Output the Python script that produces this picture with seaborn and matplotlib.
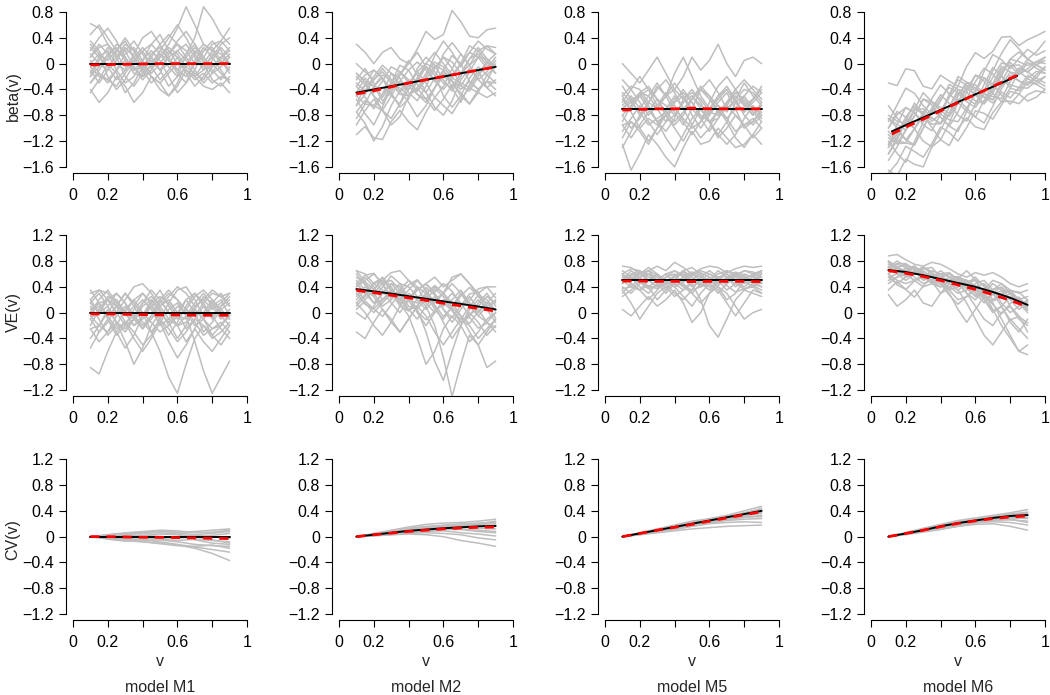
import matplotlib
matplotlib.use("Agg")
import matplotlib.pyplot as plt
import pandas as pd
import seaborn as sns

# ---------------------------------------------------------
# grids (v values)
# ---------------------------------------------------------
v_fine = [0.10, 0.15, 0.20, 0.25, 0.30, 0.35, 0.40, 0.45, 0.50,
          0.55, 0.60, 0.65, 0.70, 0.75, 0.80, 0.85, 0.90]
v_fine_long = [0.10, 0.15, 0.20, 0.25, 0.30, 0.35, 0.40, 0.45, 0.50, 0.55,
               0.60, 0.65, 0.70, 0.75, 0.80, 0.85, 0.90, 0.95, 1.00]
v_coarse = [0.1, 0.2, 0.3, 0.4, 0.5, 0.6, 0.7, 0.8, 0.9]
v_m6_beta = [0.12, 0.21, 0.30, 0.39, 0.48, 0.57, 0.66, 0.75, 0.84]

model_names = ["model M1", "model M2", "model M5", "model M6"]
row_labels = ["beta(v)", "VE(v)", "CV(v)"]
x_ticks = [0, 0.2, 0.4, 0.6, 0.8, 1.0]
x_tick_labels = ["0", "0.2", "", "0.6", "", "1"]
y_ticks_beta = [-1.6, -1.2, -0.8, -0.4, 0, 0.4, 0.8]
y_ticks_other = [-1.2, -0.8, -0.4, 0, 0.4, 0.8, 1.2]

# ---------------------------------------------------------
# beta(v): true curve, mean estimate, simulated estimates
# ---------------------------------------------------------
beta_m1_true = [0, 0, 0, 0, 0, 0, 0, 0, 0]
beta_m1_mean = [-0.02, -0.015, -0.01, -0.005, 0, 0, 0, 0, 0]
beta_m1_gray = [
    [0.62, 0.55, 0.3, 0.1, 0.2, 0.35, 0.15, -0.05, 0.1, 0.3, 0.55, 0.88, 0.6, 0.3, 0.2, 0.35, 0.55],
    [-0.4, -0.6, -0.45, -0.2, -0.35, -0.6, -0.45, -0.2, -0.3, -0.5, -0.35, -0.1, -0.2, -0.35, -0.4, -0.3, -0.45],
    [0.2, 0.4, 0.55, 0.35, 0.1, -0.1, 0.05, 0.3, 0.45, 0.2, 0.0, 0.15, 0.4, 0.88, 0.7, 0.45, 0.3],
    [0.05, -0.15, -0.3, -0.1, 0.15, 0.25, 0.05, -0.2, -0.4, -0.5, -0.3, 0.0, 0.2, 0.05, -0.15, -0.05, 0.1],
    [-0.2, 0.05, 0.25, 0.1, -0.2, -0.35, -0.15, 0.1, 0.3, 0.45, 0.3, 0.1, -0.1, -0.3, -0.15, 0.1, 0.2],
    [0.35, 0.2, -0.05, -0.25, -0.1, 0.15, 0.4, 0.5, 0.3, 0.05, -0.15, -0.3, -0.1, 0.2, 0.35, 0.2, 0.0],
    [-0.1, -0.3, -0.1, 0.2, 0.4, 0.2, -0.1, -0.3, -0.15, 0.15, 0.35, 0.5, 0.3, 0.0, -0.25, -0.35, -0.2],
    [0.1, 0.3, 0.15, -0.1, -0.3, -0.2, 0.05, 0.2, 0.05, -0.2, -0.45, -0.3, 0.05, 0.25, 0.1, -0.1, -0.3],
    [-0.3, -0.1, 0.1, 0.3, 0.2, -0.05, -0.25, -0.1, 0.2, 0.4, 0.6, 0.4, 0.15, -0.05, 0.1, 0.3, 0.4],
    [0.45, 0.6, 0.4, 0.2, 0.35, 0.1, -0.1, 0.05, -0.1, 0.1, 0.2, 0.05, -0.2, -0.1, 0.15, 0.05, -0.15],
    [0.0, 0.15, -0.2, -0.4, -0.25, 0.0, 0.2, -0.05, -0.25, -0.1, 0.1, -0.15, -0.35, -0.2, 0.05, 0.25, 0.1],
    [-0.45, -0.25, 0.0, -0.15, -0.45, -0.3, -0.05, 0.1, -0.1, -0.35, -0.2, 0.15, 0.3, 0.1, -0.1, -0.25, -0.05],
    [0.15, 0.0, -0.1, 0.05, 0.25, 0.1, -0.15, -0.05, 0.15, 0.05, -0.1, 0.1, 0.25, 0.1, -0.05, 0.1, 0.25],
    [-0.15, 0.1, 0.2, 0.0, -0.1, 0.1, 0.25, 0.1, -0.1, 0.0, 0.2, 0.3, 0.1, -0.1, 0.0, -0.15, -0.3],
    [0.25, 0.1, -0.05, 0.1, 0.3, 0.2, 0.0, -0.15, 0.0, 0.2, 0.1, -0.1, -0.2, 0.0, 0.2, 0.15, 0.0],
    [-0.2, -0.05, 0.15, 0.25, 0.05, -0.15, -0.2, 0.0, 0.2, 0.1, -0.1, -0.2, 0.0, 0.2, 0.25, 0.05, -0.1],
    [0.1, 0.25, 0.3, 0.15, -0.05, 0.05, 0.2, 0.3, 0.15, -0.05, -0.2, -0.05, 0.15, 0.3, 0.2, 0.0, 0.15],
    [-0.05, -0.2, -0.25, -0.1, 0.05, -0.05, -0.2, -0.1, 0.1, 0.25, 0.15, -0.05, -0.15, -0.25, -0.05, 0.1, 0.0],
    [0.3, 0.15, 0.05, 0.2, 0.1, -0.1, -0.05, 0.15, 0.25, 0.15, 0.3, 0.2, 0.0, 0.1, 0.3, 0.35, 0.2],
    [-0.3, -0.15, -0.25, -0.35, -0.15, 0.05, -0.05, -0.2, -0.3, -0.15, 0.0, -0.1, -0.25, -0.15, -0.3, -0.2, -0.25],
]

beta_m2_true = [-0.45, -0.4, -0.35, -0.3, -0.25, -0.2, -0.15, -0.1, -0.05]
beta_m2_mean = [-0.47, -0.42, -0.36, -0.3, -0.25, -0.2, -0.15, -0.1, -0.05]
beta_m2_gray = [
    [0.30, 0.175, 0.0, 0.175, 0.25, 0.075, 0.0, 0.225, 0.5, 0.375, 0.45, 0.825, 0.65, 0.425, 0.4, 0.525, 0.55],
    [-1.1, -0.975, -1.15, -1.175, -0.9, -0.725, -0.9, -1.025, -0.75, -0.525, -0.65, -0.775, -0.55, -0.375, -0.45, -0.525, -0.45],
    [-0.25, -0.075, -0.3, -0.525, -0.3, -0.025, -0.1, -0.325, -0.45, -0.225, 0.15, 0.325, 0.15, -0.025, 0.1, 0.275, 0.25],
    [-0.85, -0.625, -0.35, -0.225, -0.45, -0.675, -0.55, -0.225, -0.05, -0.175, -0.5, -0.675, -0.5, -0.225, -0.05, -0.175, -0.3],
    [-0.35, -0.525, -0.7, -0.475, -0.15, -0.225, -0.45, -0.575, -0.35, -0.075, 0.1, -0.075, -0.35, -0.425, -0.2, 0.025, 0.15],
    [-0.65, -0.325, -0.1, -0.225, -0.5, -0.625, -0.4, -0.075, 0.1, -0.025, -0.25, -0.425, -0.2, 0.075, 0.25, 0.075, -0.05],
    [-0.15, -0.275, -0.5, -0.725, -0.85, -0.625, -0.3, -0.125, -0.3, -0.525, -0.35, -0.075, 0.15, -0.025, -0.25, -0.375, -0.25],
    [-0.55, -0.775, -0.95, -0.675, -0.35, -0.175, 0.05, -0.175, -0.45, -0.675, -0.8, -0.575, -0.25, -0.075, -0.25, -0.125, 0.05],
    [-0.45, -0.225, -0.35, -0.575, -0.45, -0.175, 0.0, 0.175, -0.05, -0.275, -0.1, 0.125, 0.0, -0.275, -0.4, -0.275, 0.0],
    [-0.95, -0.725, -0.55, -0.725, -0.95, -0.825, -0.5, -0.375, -0.55, -0.725, -0.55, -0.325, -0.45, -0.625, -0.4, -0.275, -0.4],
    [0.0, -0.125, -0.25, -0.075, -0.25, -0.425, -0.25, -0.425, -0.2, 0.125, 0.35, 0.175, -0.05, 0.175, 0.35, 0.225, 0.15],
    [-0.75, -0.925, -1.2, -0.975, -0.65, -0.425, -0.6, -0.825, -0.65, -0.375, -0.15, -0.275, -0.5, -0.625, -0.45, -0.175, -0.05],
    [-0.3, -0.425, -0.2, -0.025, -0.15, -0.325, -0.4, -0.225, 0.0, 0.175, 0.0, -0.175, 0.0, 0.275, 0.2, 0.025, -0.15],
    [-0.5, -0.325, -0.5, -0.625, -0.3, -0.125, -0.25, -0.475, -0.6, -0.375, -0.1, -0.375, -0.6, -0.325, -0.1, -0.375, -0.5],
    [-0.2, -0.325, -0.45, -0.275, -0.05, -0.125, -0.3, -0.425, -0.25, -0.025, -0.1, -0.275, -0.35, -0.125, 0.1, 0.075, -0.05],
    [-0.65, -0.475, -0.25, -0.125, -0.3, -0.475, -0.5, -0.275, -0.05, -0.125, -0.3, -0.375, -0.15, 0.075, 0.15, -0.025, -0.15],
    [-0.35, -0.175, -0.1, -0.225, -0.4, -0.275, -0.1, 0.025, -0.1, -0.275, -0.4, -0.225, 0.0, 0.175, 0.1, -0.075, 0.1],
    [-0.5, -0.625, -0.65, -0.475, -0.3, -0.375, -0.5, -0.375, -0.15, 0.025, -0.05, -0.225, -0.3, -0.375, -0.15, 0.025, -0.05],
    [-0.15, -0.275, -0.35, -0.175, -0.25, -0.425, -0.35, -0.125, 0.0, -0.075, 0.1, 0.025, -0.15, -0.025, 0.2, 0.275, 0.15],
    [-0.75, -0.575, -0.65, -0.725, -0.5, -0.275, -0.35, -0.475, -0.55, -0.375, -0.2, -0.275, -0.4, -0.275, -0.4, -0.275, -0.3],
]

beta_m5_true = [-0.7, -0.7, -0.7, -0.7, -0.7, -0.7, -0.7, -0.7, -0.7]
beta_m5_mean = [-0.72, -0.71, -0.7, -0.7, -0.69, -0.7, -0.7, -0.7, -0.7]
beta_m5_gray = [
    [0.0, -0.15, -0.3, -0.1, 0.1, -0.15, -0.4, -0.2, 0.1, -0.1, 0.05, 0.3, 0.0, -0.2, 0.05, 0.1, 0.0],
    [-1.25, -1.65, -1.4, -1.1, -1.25, -1.45, -1.6, -1.3, -1.05, -1.25, -1.2, -1.0, -1.15, -1.3, -1.25, -1.1, -1.25],
    [-0.35, -0.55, -0.8, -0.6, -0.35, -0.5, -0.75, -0.95, -0.7, -0.4, -0.25, -0.45, -0.7, -0.55, -0.3, -0.5, -0.65],
    [-0.9, -0.65, -0.45, -0.65, -0.9, -1.05, -0.85, -0.55, -0.4, -0.6, -0.9, -1.1, -0.9, -0.6, -0.5, -0.7, -0.85],
    [-0.6, -0.4, -0.2, -0.4, -0.65, -0.5, -0.3, -0.5, -0.8, -1.0, -0.8, -0.5, -0.35, -0.55, -0.8, -0.95, -0.8],
    [-1.05, -0.85, -0.65, -0.9, -1.1, -0.9, -0.6, -0.4, -0.6, -0.85, -1.05, -0.85, -0.6, -0.4, -0.6, -0.8, -0.65],
    [-0.5, -0.75, -1.0, -1.2, -1.0, -0.7, -0.5, -0.7, -0.95, -1.15, -1.0, -0.7, -0.9, -1.15, -1.3, -1.1, -0.9],
    [-0.8, -1.0, -0.85, -0.6, -0.4, -0.25, -0.45, -0.7, -0.55, -0.35, -0.5, -0.75, -0.6, -0.4, -0.25, -0.4, -0.55],
    [-0.25, -0.4, -0.6, -0.8, -0.65, -0.45, -0.65, -0.9, -1.1, -0.9, -0.6, -0.35, -0.2, -0.4, -0.65, -0.8, -0.6],
    [-1.15, -0.9, -1.05, -1.25, -1.0, -0.8, -1.0, -1.2, -0.95, -0.7, -0.9, -1.15, -1.0, -0.8, -0.95, -1.15, -1.0],
    [-0.65, -0.5, -0.7, -0.5, -0.3, -0.5, -0.15, 0.1, -0.2, -0.5, -0.7, -0.55, -0.4, -0.6, -0.75, -0.55, -0.35],
    [-1.3, -1.05, -0.8, -0.7, -0.9, -1.15, -1.35, -1.1, -0.85, -0.7, -0.9, -1.1, -1.25, -1.1, -0.85, -0.65, -0.8],
    [-0.45, -0.6, -0.45, -0.35, -0.55, -0.8, -0.95, -0.8, -0.55, -0.4, -0.55, -0.75, -0.85, -0.7, -0.5, -0.35, -0.45],
    [-0.95, -1.15, -0.95, -0.75, -0.55, -0.65, -0.8, -0.6, -0.5, -0.65, -0.8, -0.6, -0.45, -0.7, -1.0, -0.9, -0.7],
    [-0.7, -0.55, -0.5, -0.7, -0.9, -0.8, -0.6, -0.5, -0.7, -0.85, -0.7, -0.5, -0.4, -0.6, -0.75, -0.6, -0.45],
    [-0.8, -0.65, -0.45, -0.5, -0.7, -0.9, -0.8, -0.6, -0.5, -0.7, -0.9, -0.85, -0.65, -0.45, -0.55, -0.75, -0.9],
    [-0.55, -0.7, -0.5, -0.4, -0.55, -0.75, -0.9, -0.75, -0.55, -0.4, -0.5, -0.65, -0.75, -0.55, -0.4, -0.45, -0.6],
    [-0.7, -0.6, -0.75, -0.95, -0.85, -0.75, -0.55, -0.45, -0.6, -0.8, -0.9, -0.75, -0.65, -0.8, -0.95, -0.9, -0.75],
    [-0.5, -0.35, -0.4, -0.6, -0.7, -0.5, -0.4, -0.55, -0.45, -0.55, -0.75, -0.8, -0.6, -0.5, -0.65, -0.55, -0.4],
    [-0.95, -0.9, -1.0, -0.85, -0.95, -0.8, -0.7, -0.85, -1.0, -0.9, -0.75, -0.65, -0.85, -1.05, -0.95, -0.85, -1.0],
]

beta_m6_true = [-1.05, -0.94, -0.835, -0.73, -0.62, -0.51, -0.405, -0.30, -0.19]
beta_m6_mean = [-1.09, -0.97, -0.86, -0.745, -0.63, -0.515, -0.405, -0.29, -0.18]
beta_m6_gray = [
    [-0.3, -0.34, -0.08, -0.11, -0.35, -0.39, -0.18, -0.27, -0.35, -0.04, 0.17, 0.08, 0.19, 0.41, 0.42, 0.28, 0.37, 0.43, 0.5],
    [-1.65, -1.74, -1.48, -1.56, -1.6, -1.29, -1.18, -1.27, -1.0, -0.84, -0.98, -1.02, -0.76, -0.59, -0.58, -0.62, -0.48, -0.42, -0.45],
    [-1.3, -0.94, -0.68, -0.76, -0.95, -1.04, -0.78, -0.47, -0.25, -0.34, -0.48, -0.62, -0.41, -0.14, 0.07, 0.03, -0.03, 0.03, 0.1],
    [-0.85, -0.99, -1.18, -1.26, -1.0, -0.69, -0.48, -0.62, -0.8, -0.89, -0.63, -0.32, -0.06, -0.19, -0.38, -0.42, -0.23, -0.12, -0.15],
    [-1.5, -1.29, -1.03, -0.81, -0.55, -0.64, -0.83, -0.97, -0.75, -0.44, -0.18, -0.27, -0.46, -0.59, -0.38, -0.12, 0.07, -0.02, -0.1],
    [-1.0, -0.74, -0.83, -1.01, -0.8, -0.54, -0.33, -0.47, -0.6, -0.74, -0.83, -0.57, -0.31, -0.04, -0.13, -0.27, -0.33, -0.22, -0.05],
    [-1.2, -1.39, -1.53, -1.21, -0.9, -0.69, -0.83, -0.97, -1.05, -0.74, -0.43, -0.22, -0.31, -0.49, -0.63, -0.47, -0.28, -0.32, -0.4],
    [-0.65, -0.84, -0.98, -0.71, -0.45, -0.59, -0.73, -0.52, -0.2, -0.29, -0.43, -0.12, 0.14, 0.06, -0.08, 0.08, 0.22, 0.13, 0.2],
    [-1.4, -1.14, -0.88, -1.01, -1.2, -1.29, -1.03, -0.77, -0.55, -0.69, -0.83, -0.92, -0.66, -0.39, -0.18, -0.27, -0.33, -0.17, -0.05],
    [-1.1, -1.24, -1.03, -0.71, -0.7, -0.84, -0.93, -0.67, -0.45, -0.54, -0.28, -0.07, -0.16, -0.34, -0.23, -0.07, -0.13, -0.22, -0.3],
    [-1.7, -1.54, -1.28, -1.36, -1.45, -1.24, -0.98, -1.07, -1.2, -0.99, -0.73, -0.77, -0.86, -0.64, -0.43, -0.47, -0.58, -0.52, -0.4],
    [-0.9, -0.64, -0.38, -0.46, -0.65, -0.79, -0.58, -0.32, -0.4, -0.54, -0.63, -0.42, -0.11, 0.16, 0.37, 0.23, 0.07, 0.18, 0.35],
    [-1.25, -1.04, -1.18, -1.01, -0.75, -0.59, -0.68, -0.77, -0.5, -0.29, -0.38, -0.47, -0.56, -0.34, -0.13, -0.17, -0.08, 0.03, 0.0],
    [-1.05, -1.19, -0.88, -0.61, -0.8, -0.99, -1.18, -0.92, -0.6, -0.39, -0.48, -0.62, -0.46, -0.19, -0.33, -0.37, -0.18, -0.27, -0.2],
    [-0.85, -0.94, -1.03, -0.81, -0.55, -0.59, -0.73, -0.82, -0.6, -0.34, -0.38, -0.52, -0.56, -0.29, -0.03, -0.02, -0.13, -0.02, 0.1],
    [-1.3, -1.09, -0.83, -0.66, -0.8, -0.94, -0.93, -0.67, -0.4, -0.44, -0.58, -0.62, -0.36, -0.09, 0.02, -0.12, -0.23, -0.32, -0.2],
    [-1.0, -0.79, -0.68, -0.76, -0.9, -0.74, -0.53, -0.37, -0.45, -0.59, -0.68, -0.47, -0.21, 0.01, -0.03, -0.17, 0.02, -0.07, -0.15],
    [-1.15, -1.24, -1.23, -1.01, -0.8, -0.84, -0.93, -0.77, -0.5, -0.29, -0.33, -0.47, -0.51, -0.54, -0.28, -0.07, -0.13, -0.02, 0.05],
    [-0.8, -0.89, -0.93, -0.71, -0.75, -0.89, -0.78, -0.52, -0.35, -0.39, -0.18, -0.22, -0.36, -0.19, 0.07, 0.18, 0.07, -0.02, -0.1],
    [-1.4, -1.19, -1.23, -1.26, -1.0, -0.74, -0.78, -0.87, -0.9, -0.69, -0.48, -0.52, -0.61, -0.44, -0.53, -0.37, -0.38, -0.27, -0.35],
]

# ---------------------------------------------------------
# VE(v)
# ---------------------------------------------------------
ve_m1_true = [0, 0, 0, 0, 0, 0, 0, 0, 0]
ve_m1_mean = [-0.02, -0.02, -0.025, -0.03, -0.035, -0.035, -0.04, -0.04, -0.04]
ve_m1_gray = [
    [0.3, 0.35, 0.2, 0.0, 0.2, 0.4, 0.45, 0.3, 0.1, 0.25, 0.4, 0.3, 0.1, 0.2, 0.35, 0.25, 0.3],
    [-0.85, -0.95, -0.6, -0.3, -0.15, -0.3, -0.5, -0.35, -0.1, -0.25, -0.45, -0.3, -0.1, -0.2, -0.4, -0.3, -0.15],
    [0.1, -0.1, -0.35, -0.2, 0.05, 0.2, 0.0, -0.3, -0.6, -1.0, -1.25, -0.8, -0.4, -0.2, -0.35, -0.5, -0.3],
    [-0.2, 0.05, 0.2, 0.1, -0.15, -0.4, -0.6, -0.4, -0.15, 0.05, 0.15, -0.05, -0.45, -0.9, -1.25, -1.0, -0.75],
    [0.2, 0.0, 0.1, 0.3, 0.15, -0.1, -0.25, -0.05, 0.2, 0.35, 0.2, -0.05, 0.15, 0.3, 0.1, -0.1, 0.05],
    [-0.4, -0.2, 0.05, -0.15, -0.45, -0.8, -0.55, -0.2, 0.0, -0.15, -0.4, -0.2, 0.05, -0.1, -0.35, -0.2, 0.0],
    [0.0, 0.2, 0.35, 0.15, -0.05, 0.1, 0.3, 0.15, -0.1, -0.35, -0.15, 0.1, 0.3, 0.15, -0.1, 0.1, 0.2],
    [-0.1, -0.3, -0.15, 0.1, 0.3, 0.1, -0.15, -0.3, -0.1, 0.15, 0.35, 0.4, 0.2, -0.05, 0.15, 0.3, 0.1],
    [-0.55, -0.3, -0.1, -0.3, -0.55, -0.35, -0.05, 0.1, -0.15, -0.45, -0.7, -0.5, -0.25, -0.45, -0.6, -0.4, -0.2],
    [0.35, 0.15, -0.05, 0.1, 0.3, 0.15, -0.05, 0.15, 0.35, 0.1, -0.1, 0.05, 0.25, 0.35, 0.2, 0.0, -0.1],
    [-0.25, -0.45, -0.3, -0.05, 0.1, -0.05, -0.25, -0.1, 0.1, 0.2, 0.0, -0.25, -0.1, 0.1, -0.05, -0.25, -0.4],
    [0.15, 0.3, 0.1, -0.15, -0.3, -0.1, 0.15, 0.35, 0.2, 0.0, -0.2, -0.45, -0.25, 0.0, 0.2, 0.05, -0.1],
    [-0.05, -0.2, 0.0, 0.2, 0.0, -0.2, -0.05, 0.2, 0.05, -0.2, -0.05, 0.2, 0.0, -0.3, -0.15, 0.05, 0.15],
    [0.05, 0.15, -0.1, -0.35, -0.2, 0.05, 0.2, 0.05, -0.2, -0.1, 0.1, 0.0, -0.2, -0.1, 0.1, 0.2, -0.05],
    [0.0, 0.15, 0.2, 0.0, -0.2, -0.1, 0.1, 0.2, 0.0, -0.15, 0.0, 0.2, 0.3, 0.1, -0.05, 0.1, 0.25],
    [-0.1, 0.05, 0.25, 0.2, 0.0, -0.2, -0.1, 0.1, 0.2, 0.0, -0.2, -0.15, 0.05, 0.25, 0.15, -0.05, -0.2],
    [0.15, 0.0, 0.2, 0.3, 0.15, -0.05, -0.2, -0.05, 0.15, 0.3, 0.2, 0.05, -0.05, 0.15, 0.3, 0.25, 0.1],
    [0.0, 0.1, -0.05, -0.25, -0.15, -0.05, 0.15, 0.25, 0.1, -0.1, -0.2, -0.05, 0.05, -0.1, -0.25, -0.2, -0.05],
    [0.2, 0.35, 0.3, 0.1, 0.0, 0.2, 0.3, 0.15, 0.25, 0.15, -0.05, -0.1, 0.1, 0.2, 0.05, 0.15, 0.3],
    [-0.25, -0.2, -0.3, -0.15, -0.25, -0.1, 0.0, -0.15, -0.3, -0.2, -0.05, 0.05, -0.15, -0.35, -0.25, -0.15, -0.3],
]

ve_m2_true = [0.365, 0.33, 0.295, 0.255, 0.215, 0.175, 0.135, 0.095, 0.05]
ve_m2_mean = [0.345, 0.31, 0.27, 0.23, 0.19, 0.145, 0.105, 0.065, 0.025]
ve_m2_gray = [
    [0.65, 0.6, 0.45, 0.5, 0.62, 0.65, 0.5, 0.35, 0.45, 0.55, 0.4, 0.5, 0.6, 0.45, 0.3, 0.4, 0.4],
    [-0.3, -0.4, -0.15, 0.05, -0.1, -0.3, -0.1, 0.1, -0.05, -0.3, -0.5, -0.3, -0.1, -0.2, -0.4, -0.25, -0.1],
    [0.3, 0.15, 0.0, 0.15, 0.3, 0.15, -0.05, -0.4, -0.8, -0.6, -0.25, -0.05, -0.2, -0.45, -0.3, -0.1, 0.0],
    [0.45, 0.3, 0.15, 0.2, 0.35, 0.25, 0.05, -0.1, 0.1, -0.2, -0.7, -1.3, -0.8, -0.35, -0.5, -0.85, -0.75],
    [0.1, 0.25, 0.45, 0.35, 0.15, 0.0, 0.2, 0.4, 0.3, 0.05, -0.1, 0.1, 0.3, 0.15, -0.05, 0.1, 0.2],
    [0.55, 0.45, 0.3, 0.45, 0.5, 0.35, 0.2, 0.35, 0.45, 0.3, 0.1, 0.2, 0.35, 0.15, 0.0, 0.15, 0.3],
    [0.2, 0.35, 0.25, 0.05, -0.15, -0.3, -0.1, 0.1, 0.25, 0.1, -0.15, -0.4, -0.2, 0.05, 0.2, 0.05, -0.15],
    [0.4, 0.5, 0.6, 0.45, 0.25, 0.35, 0.5, 0.4, 0.15, 0.0, 0.15, 0.3, 0.15, -0.05, 0.1, 0.25, 0.15],
    [0.0, -0.1, 0.1, 0.3, 0.45, 0.3, 0.1, 0.05, -0.3, -0.75, -1.05, -0.6, -0.2, 0.0, -0.15, -0.35, -0.2],
    [0.35, 0.2, 0.35, 0.55, 0.4, 0.2, 0.35, 0.5, 0.35, 0.15, 0.3, 0.45, 0.3, 0.1, -0.05, -0.15, 0.0],
    [0.25, 0.4, 0.3, 0.1, 0.2, 0.35, 0.25, 0.0, -0.2, 0.0, 0.2, 0.05, -0.15, -0.05, 0.15, 0.3, 0.1],
    [0.5, 0.35, 0.15, 0.3, 0.45, 0.4, 0.2, 0.15, 0.3, 0.4, 0.3, 0.55, 0.6, 0.45, 0.25, 0.15, 0.05],
    [0.15, 0.0, -0.2, -0.35, -0.15, 0.1, 0.3, 0.2, 0.05, 0.2, 0.3, 0.15, -0.05, -0.3, -0.5, -0.3, -0.1],
    [0.4, 0.55, 0.4, 0.2, 0.3, 0.45, 0.4, 0.25, 0.1, 0.25, 0.05, -0.15, 0.05, 0.25, 0.05, -0.15, -0.3],
    [0.6, 0.43, 0.26, 0.39, 0.57, 0.45, 0.23, 0.06, 0.19, 0.37, 0.25, 0.03, -0.1, 0.09, 0.27, 0.2, 0.03],
    [0.15, 0.28, 0.46, 0.54, 0.32, 0.1, 0.03, 0.21, 0.39, 0.27, 0.05, -0.08, 0.11, 0.29, 0.32, 0.1, -0.08],
    [0.45, 0.58, 0.61, 0.44, 0.22, 0.3, 0.43, 0.51, 0.34, 0.12, -0.06, 0.08, 0.26, 0.39, 0.27, 0.05, 0.18],
    [0.3, 0.13, 0.06, 0.19, 0.32, 0.2, 0.03, 0.11, 0.29, 0.42, 0.3, 0.08, -0.05, -0.17, 0.02, 0.15, 0.03],
    [0.65, 0.48, 0.36, 0.49, 0.37, 0.15, 0.18, 0.36, 0.44, 0.32, 0.45, 0.33, 0.11, 0.19, 0.37, 0.4, 0.23],
    [0.05, 0.18, 0.06, -0.06, 0.12, 0.3, 0.18, 0.01, -0.11, 0.02, 0.15, 0.03, -0.15, -0.07, -0.24, -0.16, -0.23],
]

ve_m5_true = [0.5, 0.5, 0.5, 0.5, 0.5, 0.5, 0.5, 0.5, 0.5]
ve_m5_mean = [0.49, 0.49, 0.485, 0.485, 0.48, 0.485, 0.485, 0.485, 0.48]
ve_m5_gray = [
    [0.72, 0.7, 0.6, 0.65, 0.72, 0.65, 0.78, 0.7, 0.6, 0.68, 0.72, 0.7, 0.62, 0.68, 0.72, 0.7, 0.72],
    [0.05, -0.05, 0.1, 0.25, 0.1, 0.2, 0.35, 0.15, -0.15, 0.0, 0.3, 0.4, 0.3, 0.1, -0.1, 0.0, 0.05],
    [0.35, 0.15, -0.1, 0.1, 0.3, 0.4, 0.25, 0.35, 0.45, 0.2, -0.2, -0.38, -0.1, 0.2, 0.35, 0.3, 0.25],
    [0.55, 0.45, 0.35, 0.5, 0.6, 0.5, 0.4, 0.5, 0.6, 0.55, 0.45, 0.55, 0.6, 0.5, 0.4, 0.5, 0.55],
    [0.45, 0.6, 0.65, 0.5, 0.4, 0.55, 0.65, 0.55, 0.4, 0.5, 0.6, 0.5, 0.35, 0.45, 0.6, 0.55, 0.45],
    [0.6, 0.5, 0.55, 0.65, 0.5, 0.35, 0.5, 0.65, 0.55, 0.4, 0.5, 0.65, 0.55, 0.4, 0.5, 0.6, 0.65],
    [0.25, 0.35, 0.5, 0.4, 0.2, 0.35, 0.5, 0.4, 0.3, 0.45, 0.55, 0.4, 0.2, 0.3, 0.5, 0.4, 0.3],
    [0.5, 0.65, 0.55, 0.4, 0.5, 0.6, 0.45, 0.35, 0.5, 0.62, 0.55, 0.45, 0.5, 0.62, 0.5, 0.4, 0.5],
    [0.65, 0.55, 0.4, 0.3, 0.45, 0.55, 0.6, 0.45, 0.3, 0.15, 0.3, 0.5, 0.6, 0.5, 0.35, 0.45, 0.6],
    [0.4, 0.3, 0.45, 0.6, 0.55, 0.45, 0.3, 0.2, 0.35, 0.55, 0.65, 0.55, 0.45, 0.55, 0.65, 0.6, 0.45],
    [0.55, 0.5, 0.6, 0.7, 0.6, 0.45, 0.55, 0.65, 0.7, 0.6, 0.45, 0.3, 0.45, 0.6, 0.55, 0.45, 0.4],
    [0.3, 0.45, 0.35, 0.2, 0.35, 0.5, 0.4, 0.25, 0.1, 0.3, 0.45, 0.35, 0.15, -0.05, 0.15, 0.35, 0.3],
    [0.5, 0.4, 0.55, 0.6, 0.45, 0.3, 0.45, 0.55, 0.5, 0.45, 0.35, 0.5, 0.65, 0.6, 0.45, 0.5, 0.6],
    [0.5, 0.58, 0.6, 0.5, 0.4, 0.45, 0.55, 0.6, 0.5, 0.42, 0.5, 0.6, 0.65, 0.55, 0.47, 0.55, 0.63],
    [0.45, 0.53, 0.63, 0.6, 0.5, 0.4, 0.45, 0.55, 0.6, 0.5, 0.4, 0.42, 0.53, 0.63, 0.58, 0.47, 0.4],
    [0.58, 0.5, 0.6, 0.65, 0.58, 0.47, 0.4, 0.47, 0.58, 0.65, 0.6, 0.53, 0.47, 0.58, 0.65, 0.63, 0.55],
    [0.5, 0.55, 0.47, 0.37, 0.42, 0.47, 0.58, 0.63, 0.55, 0.45, 0.4, 0.47, 0.53, 0.45, 0.37, 0.4, 0.47],
    [0.6, 0.68, 0.65, 0.55, 0.5, 0.6, 0.65, 0.58, 0.63, 0.58, 0.47, 0.45, 0.55, 0.6, 0.53, 0.58, 0.65],
    [0.37, 0.4, 0.35, 0.42, 0.37, 0.45, 0.5, 0.42, 0.35, 0.4, 0.47, 0.53, 0.42, 0.32, 0.37, 0.42, 0.35],
]

ve_m6_true = [0.66, 0.63, 0.58, 0.52, 0.46, 0.4, 0.32, 0.23, 0.12]
ve_m6_mean = [0.65, 0.61, 0.56, 0.5, 0.43, 0.36, 0.28, 0.19, 0.09]
ve_m6_gray = [
    [0.88, 0.9, 0.82, 0.75, 0.72, 0.78, 0.75, 0.68, 0.6, 0.55, 0.62, 0.58, 0.62, 0.55, 0.45, 0.4, 0.45],
    [0.28, 0.1, 0.2, 0.35, 0.15, 0.1, 0.3, 0.45, 0.35, 0.15, -0.1, -0.35, -0.5, -0.3, -0.1, -0.25, -0.4],
    [0.7, 0.6, 0.5, 0.6, 0.7, 0.6, 0.45, 0.3, 0.05, -0.15, 0.05, 0.25, 0.15, -0.1, -0.35, -0.6, -0.5],
    [0.6, 0.7, 0.75, 0.65, 0.5, 0.55, 0.65, 0.55, 0.4, 0.45, 0.55, 0.4, 0.2, 0.3, 0.35, 0.2, 0.05],
    [0.55, 0.45, 0.55, 0.65, 0.6, 0.45, 0.4, 0.5, 0.55, 0.4, 0.25, 0.3, 0.45, 0.35, 0.1, -0.1, -0.2],
    [0.75, 0.7, 0.6, 0.5, 0.55, 0.65, 0.6, 0.45, 0.35, 0.45, 0.5, 0.3, 0.05, -0.2, -0.4, -0.6, -0.65],
    [0.65, 0.75, 0.7, 0.55, 0.45, 0.5, 0.6, 0.55, 0.45, 0.3, 0.2, 0.35, 0.5, 0.45, 0.3, 0.2, 0.25],
    [0.5, 0.55, 0.65, 0.7, 0.6, 0.5, 0.45, 0.35, 0.4, 0.5, 0.4, 0.2, 0.0, 0.1, 0.25, 0.15, 0.0],
    [0.8, 0.65, 0.55, 0.6, 0.68, 0.7, 0.55, 0.5, 0.55, 0.45, 0.3, 0.15, 0.3, 0.4, 0.2, 0.05, 0.15],
    [0.6, 0.5, 0.45, 0.5, 0.4, 0.45, 0.55, 0.6, 0.5, 0.3, 0.1, -0.1, -0.2, 0.0, 0.1, -0.05, -0.3],
    [0.7, 0.8, 0.72, 0.6, 0.65, 0.55, 0.45, 0.4, 0.3, 0.35, 0.45, 0.5, 0.35, 0.15, 0.0, 0.1, 0.2],
    [0.45, 0.55, 0.6, 0.5, 0.55, 0.6, 0.5, 0.35, 0.2, 0.25, 0.4, 0.45, 0.3, 0.1, -0.15, -0.3, -0.1],
    [0.72, 0.62, 0.68, 0.72, 0.62, 0.5, 0.4, 0.48, 0.55, 0.5, 0.35, 0.25, 0.35, 0.45, 0.35, 0.3, 0.35],
    [0.78, 0.68, 0.58, 0.64, 0.71, 0.63, 0.5, 0.39, 0.43, 0.5, 0.41, 0.27, 0.18, 0.24, 0.29, 0.22, 0.09],
    [0.55, 0.6, 0.69, 0.72, 0.59, 0.45, 0.4, 0.47, 0.53, 0.45, 0.31, 0.22, 0.28, 0.34, 0.32, 0.17, 0.04],
    [0.7, 0.76, 0.76, 0.67, 0.53, 0.56, 0.6, 0.62, 0.51, 0.37, 0.26, 0.29, 0.36, 0.39, 0.29, 0.14, 0.17],
    [0.6, 0.43, 0.36, 0.49, 0.61, 0.48, 0.3, 0.37, 0.53, 0.65, 0.51, 0.27, 0.13, -0.02, 0.14, 0.24, 0.09],
    [0.8, 0.71, 0.64, 0.69, 0.61, 0.48, 0.47, 0.55, 0.56, 0.48, 0.51, 0.42, 0.28, 0.29, 0.34, 0.32, 0.19],
    [0.35, 0.48, 0.36, 0.24, 0.41, 0.58, 0.45, 0.27, 0.13, 0.25, 0.36, 0.22, 0.03, 0.09, -0.11, -0.06, -0.16],
]

# ---------------------------------------------------------
# CV(v)
# ---------------------------------------------------------
cv_m1_true = [0, 0, 0, 0, 0, 0, 0, 0, 0]
cv_m1_mean = [0, 0, -0.005, -0.01, -0.01, -0.015, -0.02, -0.025, -0.03]
cv_m1_gray = [
    [0, 0.03, 0.05, 0.07, 0.08, 0.07, 0.08, 0.1, 0.12],
    [0, -0.03, -0.06, -0.08, -0.1, -0.13, -0.18, -0.26, -0.37],
    [0, 0.02, 0.04, 0.06, 0.09, 0.06, 0.03, 0.05, 0.08],
    [0, -0.02, -0.04, -0.05, -0.08, -0.12, -0.16, -0.2, -0.24],
    [0, 0.01, 0.02, 0.02, 0.0, -0.02, -0.01, 0.02, 0.05],
    [0, -0.04, -0.07, -0.06, -0.05, -0.08, -0.12, -0.14, -0.15],
    [0, 0.02, 0.03, 0.05, 0.06, 0.04, 0.0, -0.05, -0.1],
    [0, -0.01, -0.03, -0.04, -0.03, -0.01, 0.02, 0.0, -0.03],
    [0, 0.03, 0.06, 0.08, 0.1, 0.09, 0.06, 0.07, 0.1],
    [0, -0.02, -0.05, -0.08, -0.11, -0.14, -0.15, -0.13, -0.18],
    [0, 0.0, 0.01, -0.01, -0.04, -0.06, -0.04, -0.06, -0.08],
    [0, 0.01, 0.0, 0.02, 0.04, 0.03, -0.05, -0.1, -0.12],
]

cv_m2_true = [0, 0.03, 0.06, 0.09, 0.11, 0.13, 0.145, 0.16, 0.165]
cv_m2_mean = [0, 0.03, 0.055, 0.08, 0.1, 0.12, 0.135, 0.145, 0.15]
cv_m2_gray = [
    [0, 0.05, 0.1, 0.15, 0.19, 0.21, 0.22, 0.24, 0.27],
    [0, 0.02, 0.03, 0.04, 0.03, 0.0, -0.06, -0.1, -0.15],
    [0, 0.04, 0.08, 0.12, 0.15, 0.18, 0.2, 0.21, 0.22],
    [0, 0.02, 0.04, 0.06, 0.08, 0.09, 0.06, 0.04, 0.01],
    [0, 0.03, 0.07, 0.11, 0.14, 0.16, 0.17, 0.19, 0.2],
    [0, 0.01, 0.03, 0.05, 0.06, 0.05, 0.03, -0.02, -0.05],
    [0, 0.03, 0.05, 0.08, 0.1, 0.12, 0.14, 0.16, 0.18],
    [0, 0.04, 0.09, 0.13, 0.16, 0.17, 0.15, 0.13, 0.12],
    [0, 0.02, 0.05, 0.07, 0.09, 0.11, 0.11, 0.08, 0.06],
    [0, 0.03, 0.06, 0.1, 0.13, 0.15, 0.18, 0.2, 0.24],
    [0, 0.02, 0.04, 0.07, 0.1, 0.12, 0.12, 0.1, 0.08],
]

cv_m5_true = [0, 0.05, 0.1, 0.15, 0.2, 0.25, 0.3, 0.35, 0.4]
cv_m5_mean = [0, 0.05, 0.1, 0.145, 0.19, 0.24, 0.29, 0.34, 0.385]
cv_m5_gray = [
    [0, 0.06, 0.12, 0.18, 0.24, 0.28, 0.33, 0.4, 0.47],
    [0, 0.03, 0.06, 0.09, 0.12, 0.14, 0.16, 0.17, 0.18],
    [0, 0.05, 0.11, 0.16, 0.22, 0.27, 0.31, 0.37, 0.43],
    [0, 0.04, 0.08, 0.12, 0.16, 0.2, 0.22, 0.23, 0.22],
    [0, 0.05, 0.1, 0.15, 0.2, 0.25, 0.29, 0.34, 0.4],
    [0, 0.04, 0.07, 0.11, 0.16, 0.21, 0.26, 0.3, 0.33],
    [0, 0.06, 0.11, 0.17, 0.22, 0.26, 0.29, 0.33, 0.36],
    [0, 0.03, 0.07, 0.12, 0.18, 0.22, 0.25, 0.27, 0.28],
    [0, 0.05, 0.09, 0.14, 0.19, 0.24, 0.3, 0.36, 0.44],
    [0, 0.04, 0.09, 0.13, 0.17, 0.22, 0.27, 0.3, 0.31],
    [0, 0.05, 0.1, 0.16, 0.21, 0.25, 0.28, 0.32, 0.38],
]

cv_m6_true = [0, 0.05, 0.1, 0.16, 0.21, 0.25, 0.29, 0.32, 0.335]
cv_m6_mean = [0, 0.05, 0.1, 0.155, 0.205, 0.245, 0.28, 0.305, 0.32]
cv_m6_gray = [
    [0, 0.06, 0.13, 0.19, 0.25, 0.29, 0.33, 0.37, 0.42],
    [0, 0.04, 0.08, 0.12, 0.16, 0.19, 0.2, 0.16, 0.1],
    [0, 0.05, 0.11, 0.17, 0.23, 0.27, 0.31, 0.35, 0.38],
    [0, 0.04, 0.09, 0.14, 0.19, 0.22, 0.23, 0.22, 0.18],
    [0, 0.05, 0.1, 0.16, 0.21, 0.25, 0.28, 0.31, 0.33],
    [0, 0.06, 0.12, 0.18, 0.23, 0.26, 0.28, 0.29, 0.3],
    [0, 0.04, 0.08, 0.13, 0.18, 0.23, 0.27, 0.29, 0.28],
    [0, 0.05, 0.11, 0.17, 0.22, 0.26, 0.3, 0.33, 0.36],
    [0, 0.03, 0.07, 0.11, 0.16, 0.21, 0.25, 0.26, 0.24],
    [0, 0.05, 0.1, 0.15, 0.2, 0.24, 0.29, 0.33, 0.37],
    [0, 0.04, 0.09, 0.14, 0.2, 0.25, 0.27, 0.27, 0.22],
]

# ---------------------------------------------------------
# panel table: (gray v, gray curves, line v, true, mean)
# ---------------------------------------------------------
panels = [
    [(v_fine, beta_m1_gray, v_coarse, beta_m1_true, beta_m1_mean),
     (v_fine, beta_m2_gray, v_coarse, beta_m2_true, beta_m2_mean),
     (v_fine, beta_m5_gray, v_coarse, beta_m5_true, beta_m5_mean),
     (v_fine_long, beta_m6_gray, v_m6_beta, beta_m6_true, beta_m6_mean)],
    [(v_fine, ve_m1_gray, v_coarse, ve_m1_true, ve_m1_mean),
     (v_fine, ve_m2_gray, v_coarse, ve_m2_true, ve_m2_mean),
     (v_fine, ve_m5_gray, v_coarse, ve_m5_true, ve_m5_mean),
     (v_fine, ve_m6_gray, v_coarse, ve_m6_true, ve_m6_mean)],
    [(v_coarse, cv_m1_gray, v_coarse, cv_m1_true, cv_m1_mean),
     (v_coarse, cv_m2_gray, v_coarse, cv_m2_true, cv_m2_mean),
     (v_coarse, cv_m5_gray, v_coarse, cv_m5_true, cv_m5_mean),
     (v_coarse, cv_m6_gray, v_coarse, cv_m6_true, cv_m6_mean)],
]


def gray_frame(v, curves):
    rows = []
    for k, c in enumerate(curves):
        assert len(c) == len(v), (k, len(c), len(v))
        for x, y in zip(v, c):
            rows.append((k, x, y))
    return pd.DataFrame(rows, columns=["curve", "v", "value"])


def tick_text(t):
    if t == 0:
        return "0"
    return ("%g" % t).replace("-", "\u2212")


# ---------------------------------------------------------
# figure
# ---------------------------------------------------------
sns.set_style("ticks")
plt.rcParams['font.family'] = ['Liberation Sans', 'DejaVu Sans']

W, H = 1050, 695
fig = plt.figure(figsize=(W / 100, H / 100), dpi=100)
col_left = [66, 332, 598, 864]
row_top = [5.8, 229, 453]
ax_w, ax_h = 188, 167.3
ylab_y = [96, 312, 540]
FS = 11.5
GRAY = "#BEBEBE"

for r in range(3):
    yt = y_ticks_beta if r == 0 else y_ticks_other
    lo, hi = yt[0], yt[-1]
    for c in range(4):
        gv, gcurves, lv, true_vals, mean_vals = panels[r][c]
        ax = fig.add_axes([col_left[c] / W, 1 - (row_top[r] + ax_h) / H, ax_w / W, ax_h / H])

        df = gray_frame(gv, gcurves)
        sns.lineplot(data=df, x="v", y="value", units="curve", estimator=None,
                     color=GRAY, linewidth=1.1, legend=False, ax=ax)
        ax.plot(lv, true_vals, color="black", linewidth=1.4)
        ax.plot(lv, mean_vals, color="red", linewidth=2.0, dashes=(3.3, 2.5))

        ax.set_xlim(-0.04, 1.04)
        pad = 0.04 * (hi - lo)
        ax.set_ylim(lo - pad, hi + pad)
        ax.set_xticks(x_ticks)
        ax.set_xticklabels(x_tick_labels)
        ax.set_yticks(yt)
        ax.set_yticklabels([tick_text(t) for t in yt])
        ax.set_xlabel("")
        ax.set_ylabel("")

        sns.despine(ax=ax)
        ax.spines['left'].set_bounds(lo, hi)
        ax.spines['bottom'].set_bounds(0, 1)
        for s in ['left', 'bottom']:
            ax.spines[s].set_color("black")
            ax.spines[s].set_linewidth(0.8)
        ax.tick_params(length=5, width=0.8, labelsize=FS,
                       color="black", labelcolor="black")
        ax.tick_params(axis="x", pad=5.5)
        ax.tick_params(axis="y", pad=3.5)

        if c == 0:
            fig.text(13 / W, 1 - ylab_y[r] / H, row_labels[r], rotation=90,
                     ha="center", va="center", fontsize=FS)
        if r == 2:
            xc = (col_left[c] + ax_w / 2) / W
            fig.text(xc, 1 - 662 / H, "v", ha="center", va="center", fontsize=FS)
            fig.text(xc, 1 - 687 / H, model_names[c], ha="center", va="center", fontsize=FS)

fig.savefig("out.png", dpi=100)
